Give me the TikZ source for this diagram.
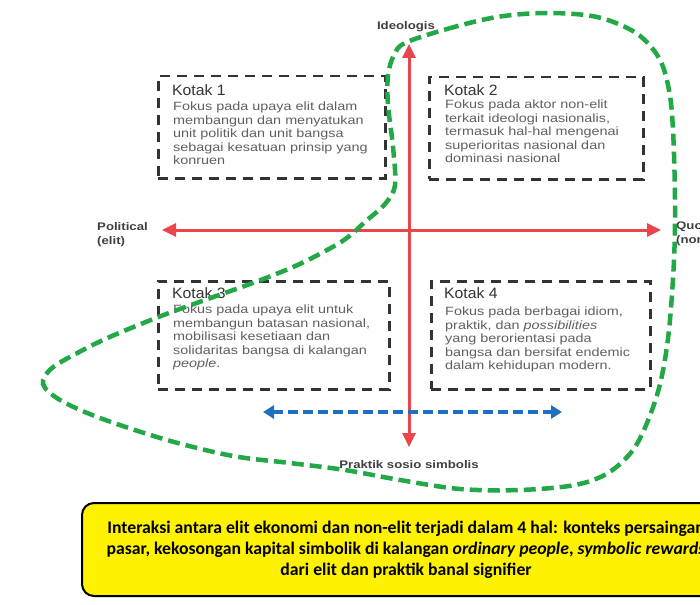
\documentclass[tikz,border=0pt]{standalone}
\usepackage{fontspec}
\setmainfont{Liberation Sans}
\newfontfamily\arialx[FakeStretch=1.2]{Liberation Sans}
\newfontfamily\arialt[FakeStretch=1.05]{Liberation Sans}
\newfontfamily\calib{Carlito}
\usetikzlibrary{arrows.meta}
\definecolor{boxline}{HTML}{333333}
\definecolor{titlegray}{HTML}{333333}
\definecolor{bodygray}{HTML}{606060}
\definecolor{labelgray}{HTML}{404040}
\definecolor{axisred}{HTML}{E8464B}
\definecolor{dashblue}{HTML}{1F6FC2}
\definecolor{loopgreen}{HTML}{22A847}
\definecolor{noteyellow}{HTML}{FFF200}
\tikzset{
  kbox/.style={draw=boxline, line width=2.5pt, dash pattern=on 10pt off 7pt, anchor=north west, inner sep=0pt},
  ktitle/.style={anchor=north west, inner sep=0pt, text=titlegray, font=\arialt\fontsize{15}{17}\selectfont},
  kbody/.style={anchor=north west, inner sep=0pt, align=left, text=bodygray, font=\arialx\fontsize{12}{13.4}\selectfont},
  axislabel/.style={inner sep=0pt, text=labelgray, font=\arialx\bfseries\fontsize{11}{14}\selectfont},
  redaxis/.style={draw=axisred, line width=3pt, {Triangle[length=14pt,width=13pt]}-{Triangle[length=14pt,width=13pt]}},
  bluearrow/.style={draw=dashblue, line width=4pt, dash pattern=on 10pt off 5pt, {Triangle[length=11pt,width=13pt]}-{Triangle[length=11pt,width=13pt]}},
  greenloop/.style={draw=loopgreen, line width=4.5pt, dash pattern=on 12pt off 6pt},
  ybox/.style={draw=black, line width=2pt, fill=noteyellow, rounded corners=12pt, align=center, inner sep=0pt,
    font=\calib\bfseries\fontsize{17.7}{21}\selectfont}
}
\begin{document}
\begin{tikzpicture}[x=1pt,y=-1pt]
\useasboundingbox (0,0) rectangle (700,604);
\clip (0,0) rectangle (700,604);
\fill[white] (0,0) rectangle (700,604);

% boxes
\node[kbox, minimum width=227pt, minimum height=102pt] (k1) at (157,75) {};
\node[kbox, minimum width=214pt, minimum height=102pt] (k2) at (428,76) {};
\node[kbox, minimum width=231pt, minimum height=108pt] (k3) at (157,280) {};
\node[kbox, minimum width=219pt, minimum height=108pt] (k4) at (430,280) {};

\node[ktitle] (t1) at (172,84) {Kotak 1};
\node[kbody] (b1) at (173,102) {Fokus pada upaya elit dalam\\membangun dan menyatukan\\unit politik dan unit bangsa\\sebagai kesatuan prinsip yang\\konruen};
\node[ktitle] (t2) at (444,84) {Kotak 2};
\node[kbody] (b2) at (445,100) {Fokus pada aktor non-elit\\terkait ideologi nasionalis,\\termasuk hal-hal mengenai\\superioritas nasional dan\\dominasi nasional};
\node[ktitle] (t3) at (172,287) {Kotak 3};
\node[kbody] (b3) at (173,305) {Fokus pada upaya elit untuk\\membangun batasan nasional,\\mobilisasi kesetiaan dan\\solidaritas bangsa di kalangan\\\textit{people}.};
\node[ktitle] (t4) at (444,287) {Kotak 4};
\node[kbody] (b4) at (445,307) {Fokus pada berbagai idiom,\\praktik, dan \textit{possibilities}\\yang berorientasi pada\\bangsa dan bersifat endemic\\dalam kehidupan modern.};

% axes
\coordinate (vtop) at (409,44);
\coordinate (vbot) at (409,447);
\coordinate (hleft) at (162,230);
\coordinate (hright) at (661,230);
\draw[redaxis] (hleft) -- (hright);
\draw[redaxis] (vbot) -- (vtop);

\node[axislabel] (ideo) at (406,27) {Ideologis};
\node[axislabel, anchor=west, align=left] (polit) at (97,235) {Political\\(elit)};
\node[axislabel, anchor=west, align=left] (quot) at (676,234) {Quotidian\\(non-elit)};
\node[axislabel] (prak) at (409,465) {Praktik sosio simbolis};

% blue dashed arrow
\coordinate (bl) at (263,412);
\coordinate (br) at (562,412);
\draw[bluearrow] (bl) -- (br);

% green dashed loop
\draw[greenloop] plot[smooth cycle, tension=0.55] coordinates {
 (405,43) (447,29) (497,17) (547,13) (597,17) (636,33) (659,58) (669,90)
 (673,130) (675,200) (674,260) (669,330) (661,380) (649,418) (633,450)
 (608,473) (575,485) (520,490) (460,489) (400,480) (345,470) (290,463)
 (233,456) (167,440) (100,418) (60,400) (43,384) (52,368) (83,350)
 (112,336) (161,316) (205,300) (250,284) (286,270) (312,258) (344,240)
 (366,221) (385,204) (395,185) (393,147) (388,105) (388,75) (394,55)};

% yellow note
\node[ybox, minimum width=648pt, minimum height=93pt] (note) at (406,549.5)
 {Interaksi antara elit ekonomi dan non-elit terjadi dalam 4 hal: konteks persaingan\\
  pasar, kekosongan kapital simbolik di kalangan \textit{ordinary people}, \textit{symbolic rewards}\\
  dari elit dan praktik banal signifier};
\end{tikzpicture}
\end{document}
